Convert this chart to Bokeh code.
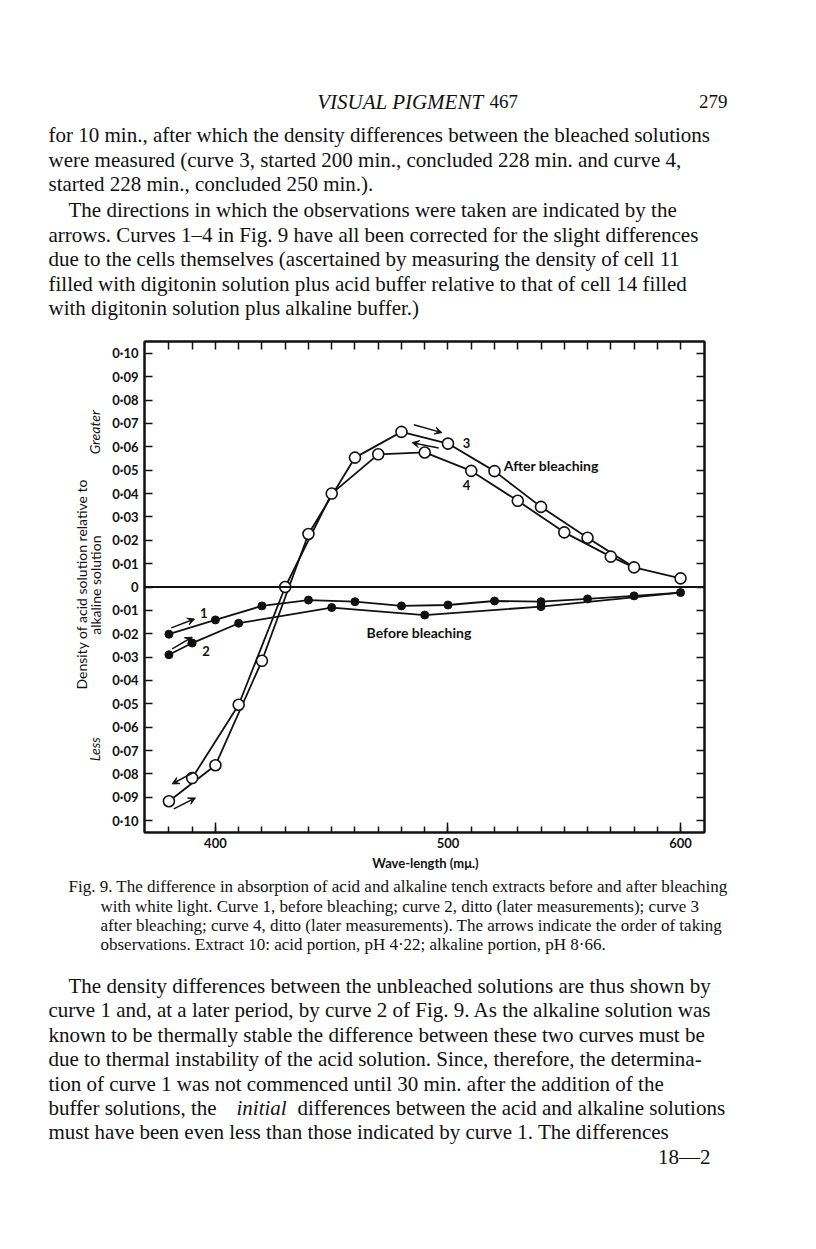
from math import pi
from bokeh.plotting import figure
from bokeh.layouts import column, row
from bokeh.core.properties import value
from bokeh.models import (FixedTicker, LinearAxis, Span, Arrow, VeeHead,
                          Range1d, ColumnDataSource)
from bokeh.embed import file_html
from bokeh.resources import INLINE

# ---------------- data ----------------
curve1_wl = [380, 400, 420, 440, 460, 480, 500, 520, 540, 560, 580, 600]
curve1_d = [-0.0202, -0.0141, -0.0081, -0.0056, -0.0063, -0.0081, -0.0077,
            -0.0060, -0.0063, -0.0051, -0.0038, -0.0024]
curve2_wl = [380, 390, 410, 450, 490, 540]
curve2_d = [-0.0290, -0.0240, -0.0155, -0.0088, -0.0120, -0.0084]
curve3_wl = [380, 400, 420, 440, 460, 480, 500, 520, 540, 560, 580, 600]
curve3_d = [-0.0917, -0.0763, -0.0316, 0.0227, 0.0554, 0.0664, 0.0614,
            0.0496, 0.0343, 0.0211, 0.0084, 0.0037]
curve4_wl = [390, 410, 430, 450, 470, 490, 510, 530, 550, 570]
curve4_d = [-0.0818, -0.0504, 0.0000, 0.0400, 0.0568, 0.0576, 0.0497,
            0.0369, 0.0234, 0.0130]

x_major_ticks = [400, 500, 600]
x_minor_ticks = [380, 390, 400, 410, 420, 430, 440, 450, 460, 470, 480, 490,
                 500, 510, 520, 530, 540, 550, 560, 570, 580, 590, 600]
y_ticks = [0.10, 0.09, 0.08, 0.07, 0.06, 0.05, 0.04, 0.03, 0.02, 0.01, 0,
           -0.01, -0.02, -0.03, -0.04, -0.05, -0.06, -0.07, -0.08, -0.09, -0.10]
y_tick_labels = ["0·10", "0·09", "0·08", "0·07", "0·06", "0·05", "0·04", "0·03",
                 "0·02", "0·01", "0", "0·01", "0·02", "0·03", "0·04", "0·05",
                 "0·06", "0·07", "0·08", "0·09", "0·10"]

# direction arrows: (x_start, y_start, x_end, y_end)
arrows = [
    (381.0, -0.0175, 391.0, -0.0137),   # curve 1
    (381.4, -0.0265, 390.0, -0.0215),   # curve 2
    (382.1, -0.0950, 391.4, -0.0903),   # curve 3 (start)
    (390.7, -0.0793, 381.4, -0.0843),   # curve 4 (end)
    (485.3, 0.0695, 497.4, 0.0661),     # curve 3 (top)
    (496.0, 0.0595, 484.6, 0.0618),     # curve 4 (top)
]

INK = "#111111"
CHART_FONT = "Lato"
TEXT_FONT = "Liberation Serif"
BODY = 21
CAP = 17

# ---------------- page geometry (page pixels) ----------------
PW = 808
TOP_H = 322                 # text block above chart
CH_TOP, CH_BOT = 322, 852   # chart row
BOT_H = 390                 # text block below chart
SIDE_W = 106                # y-title strip
FL, FT, FW, FH = 144, 341, 560, 491   # chart frame
X0, X1 = 369.5, 610.3
Y0, Y1 = -0.1051, 0.1051


def text_fig(w, h, top):
    f = figure(width=w, height=h, x_range=Range1d(0, w), y_range=Range1d(top + h, top),
               output_backend="svg", toolbar_location=None,
               x_axis_location=None, y_axis_location=None, min_border=0,
               background_fill_color="white", border_fill_color="white")
    f.grid.visible = False
    f.outline_line_color = None
    return f


def put(f, items, size, font=TEXT_FONT, style="normal", align="left", angle=0.0):
    if not items:
        return
    xs, ys, ts = zip(*items)
    f.text(x=list(xs), y=list(ys), text=list(ts), angle=angle,
           text_font=value(font), text_font_size=value(f"{size}px"),
           text_font_style=value(style), text_align=value(align),
           text_baseline=value("middle"), text_color=INK)


# ---------------- chart ----------------
cw = PW - SIDE_W
p = figure(width=cw, height=CH_BOT - CH_TOP, output_backend="svg", toolbar_location=None,
           x_range=Range1d(X0, X1), y_range=Range1d(Y0, Y1),
           min_border_left=FL - SIDE_W, min_border_right=cw - (FL - SIDE_W + FW),
           min_border_top=FT - CH_TOP, min_border_bottom=CH_BOT - (FT + FH),
           background_fill_color="white", border_fill_color="white")
p.grid.visible = False
p.outline_line_color = INK
p.outline_line_width = 2

xa = p.xaxis[0]
xa.ticker = FixedTicker(ticks=x_major_ticks, minor_ticks=x_minor_ticks)
xa.major_tick_in = 10
xa.major_tick_out = 0
xa.minor_tick_in = 6
xa.minor_tick_out = 0
xa.axis_line_width = 2
xa.major_tick_line_width = 1.5
xa.minor_tick_line_width = 1.5
xa.axis_line_color = INK
xa.major_tick_line_color = INK
xa.minor_tick_line_color = INK
xa.major_label_text_font = CHART_FONT
xa.major_label_text_font_size = "13px"
xa.major_label_text_font_style = "bold"
xa.major_label_text_color = INK
xa.major_label_standoff = 5

ya = p.yaxis[0]
ya.ticker = FixedTicker(ticks=y_ticks, minor_ticks=[])
ya.major_label_overrides = {t: l for t, l in zip(y_ticks, y_tick_labels)}
ya.major_tick_in = 8
ya.major_tick_out = 0
ya.minor_tick_in = 0
ya.minor_tick_out = 0
ya.axis_line_width = 2
ya.major_tick_line_width = 1.5
ya.axis_line_color = INK
ya.major_tick_line_color = INK
ya.major_label_text_font = CHART_FONT
ya.major_label_text_font_size = "13px"
ya.major_label_text_font_style = "bold"
ya.major_label_text_color = INK
ya.major_label_standoff = 6

# frame ticks on the top and right (no labels drawn)
top = LinearAxis(ticker=FixedTicker(ticks=x_minor_ticks, minor_ticks=[]),
                 major_tick_in=8, major_tick_out=0, minor_tick_in=0, minor_tick_out=0,
                 axis_line_width=2, major_tick_line_width=1.5,
                 axis_line_color=INK, major_tick_line_color=INK,
                 major_label_text_font_size="1px", major_label_text_color=None,
                 major_label_standoff=0)
p.add_layout(top, "above")
right = LinearAxis(ticker=FixedTicker(ticks=y_ticks, minor_ticks=[]),
                   major_tick_in=8, major_tick_out=0, minor_tick_in=0, minor_tick_out=0,
                   axis_line_width=2, major_tick_line_width=1.5,
                   axis_line_color=INK, major_tick_line_color=INK,
                   major_label_text_font_size="1px", major_label_text_color=None,
                   major_label_standoff=0)
p.add_layout(right, "right")

p.add_layout(Span(location=0, dimension="width", line_color=INK, line_width=2))

s1 = ColumnDataSource(dict(x=curve1_wl, y=curve1_d))
s2 = ColumnDataSource(dict(x=curve2_wl, y=curve2_d))
s3 = ColumnDataSource(dict(x=curve3_wl, y=curve3_d))
s4 = ColumnDataSource(dict(x=curve4_wl, y=curve4_d))

# curves 2 and 4 run into curves 1 and 3 at their far end
p.line(curve2_wl + [curve1_wl[-1]], curve2_d + [curve1_d[-1]], line_color=INK, line_width=1.8)
p.line(curve4_wl + [curve3_wl[-2]], curve4_d + [curve3_d[-2]], line_color=INK, line_width=1.8)
p.line("x", "y", source=s1, line_color=INK, line_width=1.8)
p.line("x", "y", source=s3, line_color=INK, line_width=1.8)

p.scatter("x", "y", source=s1, size=8, fill_color=INK, line_color=INK)
p.scatter("x", "y", source=s2, size=8, fill_color=INK, line_color=INK)
p.scatter("x", "y", source=s3, size=11, fill_color="white", line_color=INK, line_width=1.6)
p.scatter("x", "y", source=s4, size=11, fill_color="white", line_color=INK, line_width=1.6)

for xs_, ys_, xe_, ye_ in arrows:
    p.add_layout(Arrow(x_start=xs_, y_start=ys_, x_end=xe_, y_end=ye_,
                       line_color=INK, line_width=1.5,
                       end=VeeHead(size=7, fill_color=INK, line_color=INK, line_width=1)))

put(p, [(395, -0.0112, "1"), (396, -0.0272, "2"), (508, 0.0618, "3"), (508, 0.0436, "4")],
    13, font=CHART_FONT, style="bold", align="center")
put(p, [(524, 0.0520, "After bleaching"), (465, -0.0193, "Before bleaching")],
    14, font=CHART_FONT, style="bold")

# ---------------- y-axis title strip ----------------
side = text_fig(SIDE_W, CH_BOT - CH_TOP, CH_TOP)
put(side, [(81, 584, "Density of acid solution relative to"), (95, 585, "alkaline solution")],
    14, font=CHART_FONT, style="normal", align="center", angle=pi / 2)
put(side, [(94, 420, "Greater"), (94, 762, "Less")],
    14, font=CHART_FONT, style="italic", align="center", angle=pi / 2)

# ---------------- text above the chart ----------------
upper = text_fig(PW, TOP_H, 0)
put(upper, [(483, 101, "VISUAL PIGMENT")], 21, style="italic", align="right")
put(upper, [(489, 101, "467")], 19)
put(upper, [(727, 101, "279")], 19, align="right")
put(upper, [
    (48, 134, "for 10 min., after which the density differences between the bleached solutions"),
    (48, 159, "were measured (curve 3, started 200 min., concluded 228 min. and curve 4,"),
    (48, 183, "started 228 min., concluded 250 min.)."),
    (68, 209, "The directions in which the observations were taken are indicated by the"),
    (48, 234, "arrows.  Curves 1–4 in Fig. 9 have all been corrected for the slight differences"),
    (48, 258, "due to the cells themselves (ascertained by measuring the density of cell 11"),
    (48, 283, "filled with digitonin solution plus acid buffer relative to that of cell 14 filled"),
    (48, 307, "with digitonin solution plus alkaline buffer.)"),
], BODY)

# ---------------- text below the chart ----------------
lower = text_fig(PW, BOT_H, CH_BOT)
put(lower, [(425, 862, "Wave-length (mμ.)")], 13, font=CHART_FONT, style="bold", align="center")
put(lower, [
    (68, 886, "Fig. 9.  The difference in absorption of acid and alkaline tench extracts before and after bleaching"),
    (100, 906, "with white light.  Curve 1, before bleaching; curve 2, ditto (later measurements); curve 3"),
    (100, 925, "after bleaching; curve 4, ditto (later measurements). The arrows indicate the order of taking"),
    (100, 944, "observations.  Extract 10: acid portion, pH 4·22; alkaline portion, pH 8·66."),
], CAP)
put(lower, [
    (68, 985, "The density differences between the unbleached solutions are thus shown by"),
    (48, 1009, "curve 1 and, at a later period, by curve 2 of Fig. 9.  As the alkaline solution was"),
    (48, 1034, "known to be thermally stable the difference between these two curves must be"),
    (48, 1058, "due to thermal instability of the acid solution.  Since, therefore, the determina-"),
    (48, 1083, "tion of curve 1 was not commenced until 30 min. after the addition of the"),
    (48, 1107, "buffer solutions, the"),
    (297, 1107, "differences between the acid and alkaline solutions"),
    (48, 1131, "must have been even less than those indicated by curve 1. The differences"),
], BODY)
put(lower, [(236, 1107, "initial")], BODY, style="italic")
put(lower, [(710, 1156, "18—2")], BODY, align="right")

layout = column(upper, row(side, p, spacing=0), lower, spacing=0)
open("out.html", "w").write(file_html(layout, INLINE))
